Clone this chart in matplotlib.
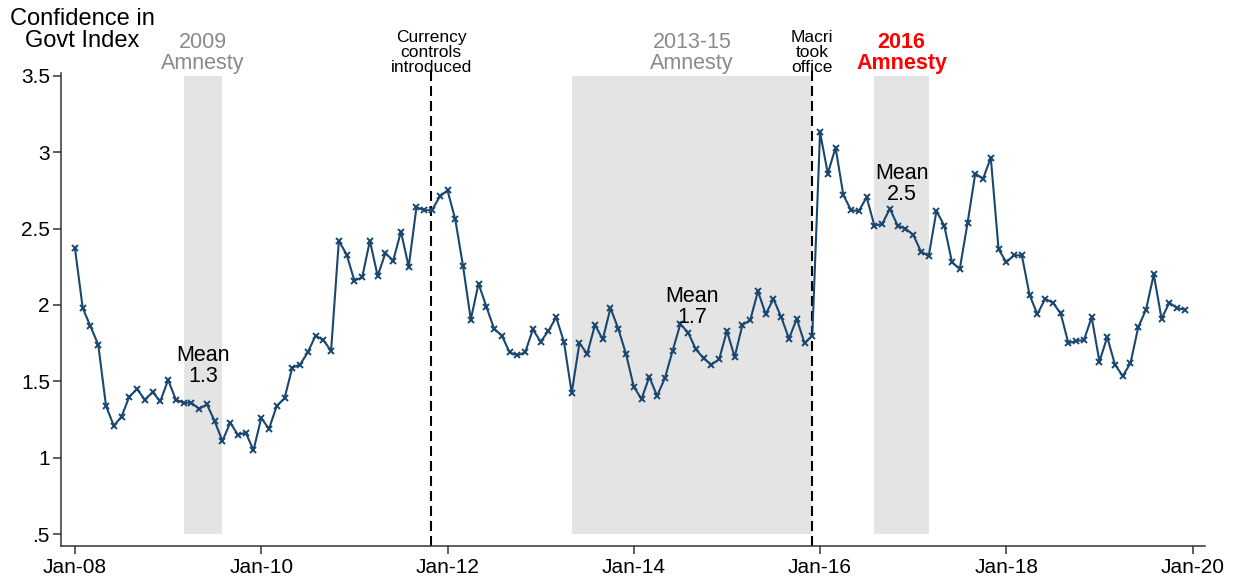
import numpy as np
import matplotlib
matplotlib.use("Agg")
import matplotlib.pyplot as plt

plt.rcParams["font.family"] = ["Liberation Sans", "DejaVu Sans"]

# monthly index, Jan-2008 .. Dec-2019 (month 0 = Jan-08)
confidence = [
    2.37, 1.98, 1.86, 1.74, 1.34, 1.21, 1.27, 1.40, 1.45, 1.38, 1.43, 1.37,
    1.51, 1.38, 1.36, 1.36, 1.32, 1.35, 1.24, 1.11, 1.23, 1.15, 1.165, 1.05,
    1.26, 1.19, 1.34, 1.39, 1.59, 1.61, 1.69, 1.80, 1.77, 1.70, 2.42, 2.33,
    2.16, 2.18, 2.42, 2.19, 2.34, 2.29, 2.48, 2.25, 2.64, 2.62, 2.62, 2.71,
    2.75, 2.56, 2.255, 1.905, 2.14, 1.99, 1.845, 1.80, 1.69, 1.67, 1.69, 1.84,
    1.76, 1.83, 1.92, 1.76, 1.425, 1.75, 1.68, 1.87, 1.775, 1.98, 1.845, 1.68,
    1.465, 1.385, 1.53, 1.405, 1.52, 1.70, 1.875, 1.82, 1.71, 1.65, 1.61, 1.645,
    1.83, 1.66, 1.87, 1.90, 2.09, 1.94, 2.04, 1.92, 1.78, 1.91, 1.75, 1.80,
    3.13, 2.86, 3.03, 2.72, 2.62, 2.615, 2.705, 2.52, 2.53, 2.63, 2.52, 2.50,
    2.46, 2.35, 2.32, 2.615, 2.52, 2.28, 2.235, 2.535, 2.86, 2.825, 2.965, 2.365,
    2.28, 2.325, 2.325, 2.065, 1.94, 2.04, 2.015, 1.945, 1.75, 1.765, 1.77, 1.92,
    1.63, 1.79, 1.61, 1.535, 1.62, 1.855, 1.97, 2.20, 1.91, 2.015, 1.98, 1.97,
]
months = np.arange(len(confidence))

xtick_pos = [0, 24, 48, 72, 96, 120, 144]
xtick_labels = ["Jan-08", "Jan-10", "Jan-12", "Jan-14", "Jan-16", "Jan-18", "Jan-20"]
ytick_pos = [0.5, 1, 1.5, 2, 2.5, 3, 3.5]
ytick_labels = [".5", "1", "1.5", "2", "2.5", "3", "3.5"]

# amnesty windows (start month, end month)
amnesty_spans = [(14, 19), (64, 95), (103, 110)]
amnesty_labels = ["2009\nAmnesty", "2013-15\nAmnesty", "2016\nAmnesty"]
amnesty_means = ["Mean\n1.3", "Mean\n1.7", "Mean\n2.5"]
mean_label_y = [1.60, 1.99, 2.79]

events = [45.9, 95.0]
event_labels = ["Currency\ncontrols\nintroduced", "Macri\ntook\noffice"]

navy = "#1a476f"
shade = "#e4e4e4"
grey_txt = "#8a8a8a"

fig = plt.figure(figsize=(12.36, 5.8), dpi=100)
ax = fig.add_axes([61 / 1236, 1 - 545.7 / 580, 1144 / 1236, (545.7 - 72.7) / 580])
ax.set_xlim(-1.8, 145.6)
ax.set_ylim(0.425, 3.52)

for (a, b) in amnesty_spans:
    ax.fill_between([a, b], 0.5, 3.5, color=shade, lw=0, zorder=0)

for x in events:
    ax.plot([x, x], [0.425, 3.56], color="black", lw=1.5, ls=(0, (4.8, 2.4)),
            clip_on=False, zorder=1)

ax.plot(months, confidence, color=navy, lw=1.5, marker="x", ms=4, mew=1.4, zorder=3)

# labels above the plot
top_y = 3.65
for (a, b), lab in zip(amnesty_spans, amnesty_labels):
    is_2016 = lab.startswith("2016")
    ax.text((a + b) / 2, top_y, lab, ha="center", va="center", linespacing=1.0,
            fontsize=15.5, color="red" if is_2016 else grey_txt,
            fontweight="bold" if is_2016 else "normal", clip_on=False)

for x, lab in zip(events, event_labels):
    ax.text(x, top_y, lab, ha="center", va="center", linespacing=1.0,
            fontsize=12.5, color="black", clip_on=False, zorder=4)

for (a, b), lab, y in zip(amnesty_spans, amnesty_means, mean_label_y):
    ax.text((a + b) / 2, y, lab, ha="center", va="center", linespacing=1.0,
            fontsize=15.5, color="black", zorder=4)

fig.text(82 / 1236, 1 - 30 / 580, "Confidence in\nGovt Index", ha="center", va="center",
         fontsize=17, linespacing=1.0)

ax.set_xticks(xtick_pos)
ax.set_xticklabels(xtick_labels)
ax.set_yticks(ytick_pos)
ax.set_yticklabels(ytick_labels)
ax.tick_params(axis="both", labelsize=15, length=6, width=1.1, color="#333333")
ax.tick_params(axis="y", pad=2)
ax.tick_params(axis="x", pad=3)

for side in ["top", "right"]:
    ax.spines[side].set_visible(False)
for side in ["left", "bottom"]:
    ax.spines[side].set_linewidth(1.1)
    ax.spines[side].set_color("#333333")

fig.savefig("out.png", dpi=100)
